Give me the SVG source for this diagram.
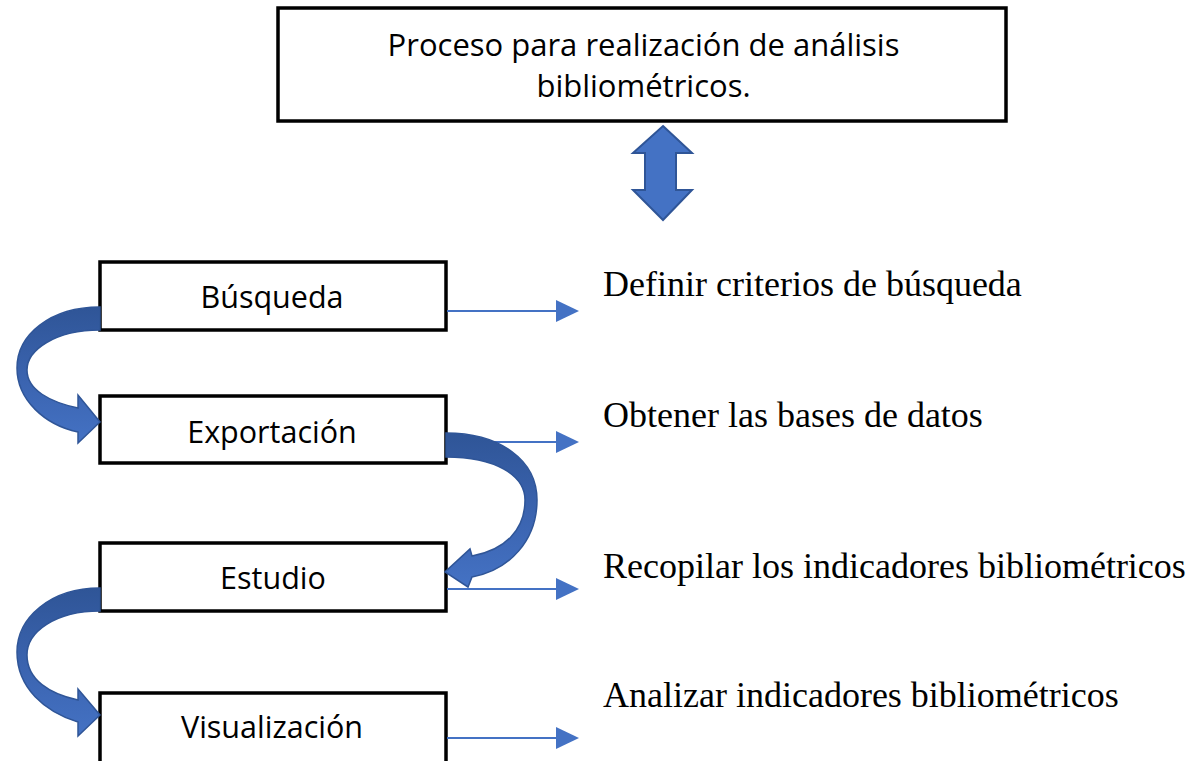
<svg xmlns="http://www.w3.org/2000/svg" width="1186" height="761" viewBox="0 0 1186 761">
<style>
.box{fill:#fff;stroke:#000;stroke-width:3.5}
.lbl{font-family:"Open Sans","Liberation Sans",sans-serif;font-size:30.5px;fill:#000;text-anchor:middle}
.ttl{font-size:31px}
.desc{font-family:"Liberation Serif","Times New Roman",serif;font-size:36px;fill:#000}
.conn{stroke:#4472C4;stroke-width:2;fill:none}
.head{fill:#4472C4}
.curve{fill:url(#g);stroke:#2F5597;stroke-width:1.5;stroke-linejoin:miter}
</style>
<defs>
<linearGradient id="g" x1="0" y1="0" x2="0" y2="1">
<stop offset="0" stop-color="#2F5597"/>
<stop offset="0.55" stop-color="#3B64B0"/>
<stop offset="1" stop-color="#4472C4"/>
</linearGradient>
</defs>
<g id="title">
<rect class="box" x="278" y="8" width="728" height="113"/>
<text class="lbl ttl" x="643.5" y="56">Proceso para realización de análisis</text>
<text class="lbl ttl" x="643.5" y="97">bibliométricos.</text>
</g>
<g id="updown">
<polygon points="663,126 692,153 676,153 676,190 692,190 663,220 633,190 645,190 645,153 633,153" fill="#4472C4" stroke="#2F5597" stroke-width="2"/>
</g>
<g id="busqueda">
<rect class="box" x="100" y="262" width="346" height="68"/>
<text class="lbl" x="272" y="308">Búsqueda</text>
</g>
<g id="exportacion">
<rect class="box" x="100" y="396" width="346" height="67"/>
<text class="lbl" x="272" y="443">Exportación</text>
</g>
<g id="estudio">
<rect class="box" x="100" y="543" width="346" height="68"/>
<text class="lbl" x="273" y="589">Estudio</text>
</g>
<g id="visualizacion">
<rect class="box" x="100" y="693" width="346" height="90"/>
<text class="lbl" x="272" y="738">Visualización</text>
</g>
<g id="desc1"><text class="desc" x="603" y="296">Definir criterios de búsqueda</text></g>
<g id="desc2"><text class="desc" x="603" y="427">Obtener las bases de datos</text></g>
<g id="desc3"><text class="desc" x="603" y="578">Recopilar los indicadores bibliométricos</text></g>
<g id="desc4"><text class="desc" x="603" y="707">Analizar indicadores bibliométricos</text></g>
<g id="connectors">
<line class="conn" x1="447" y1="311" x2="558" y2="311"/>
<polygon class="head" points="556,300 579,311 556,322"/>
<line class="conn" x1="447" y1="442" x2="558" y2="442"/>
<polygon class="head" points="556,431 579,442 556,453"/>
<line class="conn" x1="447" y1="589" x2="558" y2="589"/>
<polygon class="head" points="556,578 579,589 556,600"/>
<line class="conn" x1="447" y1="738" x2="558" y2="738"/>
<polygon class="head" points="556,727 579,738 556,749"/>
<path class="curve" d="M100,307 C50,307 17,335 17,368 C17,400 45,425 78,432 L78,443 L100,422 L78,395 L78,408 C50,402 27,390 27,370 C27,350 55,330 100,330 Z"/>
<path class="curve" d="M446,433 C500,433 537,460 537,500 C537,540 510,570 472,577 L468,587 L445,572 L470,549 L472,556 C505,550 525,530 525,500 C525,475 495,457 446,457 Z"/>
<path class="curve" d="M100,588 C50,588 17,618 17,652 C17,688 45,712 78,722 L78,736 L100,715 L78,689 L78,700 C50,694 27,680 27,655 C27,632 55,611 100,611 Z"/>
</g>
</svg>
